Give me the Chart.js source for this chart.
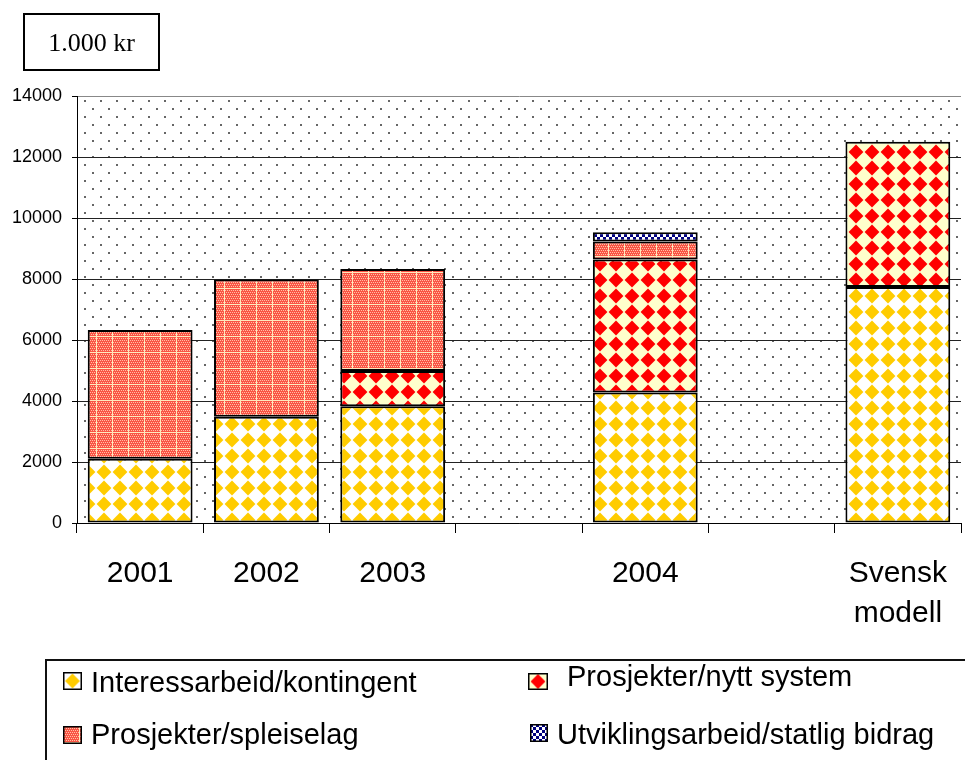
<!DOCTYPE html>
<html>
<head>
<meta charset="utf-8">
<script src="https://cdn.jsdelivr.net/npm/chart.js@4.4.1/dist/chart.umd.min.js"></script>
<style>
  body { margin: 0; background: #fff; }
  #wrap { position: relative; width: 965px; height: 760px; overflow: hidden; }
  #chart { position: absolute; left: 0; top: 0; }
  .unit {
    position: absolute; left: 23px; top: 13px; width: 133px; height: 54px;
    border: 2px solid #000; text-align: center;
    font: 26px "Liberation Serif", "Times New Roman", serif; line-height: 56px;
  }
  .legend-box { position: absolute; left: 45px; top: 659px; width: 940px; height: 140px; border: 2px solid #111; }
  .item { position: absolute; font: 29px "Liberation Sans", Arial, sans-serif; line-height: 29px; white-space: nowrap; color: #000; }
  .swatch { position: absolute; }
</style>
</head>
<body>
<div id="wrap">
  <canvas id="chart" width="965" height="760"></canvas>
  <div class="unit">1.000 kr</div>
  <div class="legend-box"></div>
</div>
<script>
// categories (empty slots are the gaps between 2003/2004 and 2004/Svensk modell)
const categories = ['2001', '2002', '2003', '', '2004', '', ['Svensk', 'modell']];

// values in 1.000 kr
const interessarbeid = [2110, 3480, 3830, null, 4280, null, 7740];
const nyttSystem     = [null, null, 1150, null, 4360, null, 4760];
const spleiselag     = [4220, 4500, 3350, null, 590, null, null];
const utvikling      = [null, null, null, null, 300, null, null];

const seriesNames = [
  'Interessarbeid/kontingent',
  'Prosjekter/nytt system',
  'Prosjekter/spleiselag',
  'Utviklingsarbeid/statlig bidrag',
];

const yTicks = { min: 0, max: 14000, step: 2000 };

// --- fill patterns ---
function makeTile(w, h, draw) {
  const c = document.createElement('canvas');
  c.width = w; c.height = h;
  draw(c.getContext('2d'));
  return c;
}

function diamondTile(bg, fg) {
  return makeTile(16, 16, (t) => {
    t.fillStyle = bg;
    t.fillRect(0, 0, 16, 16);
    t.fillStyle = fg;
    t.beginPath();
    t.moveTo(8, 0.6); t.lineTo(15.4, 8); t.lineTo(8, 15.4); t.lineTo(0.6, 8);
    t.closePath();
    t.fill();
  });
}

const tiles = {
  dots: makeTile(16, 16, (t) => {
    t.fillStyle = 'rgba(0,0,0,0.6)';
    t.fillRect(4, 4, 2, 2);
    t.fillRect(12, 12, 2, 2);
  }),
  yellow: diamondTile('#ffffff', '#ffcc00'),
  red: diamondTile('#ffffcc', '#ff0000'),
  salmon: makeTile(16, 16, (t) => {
    t.fillStyle = '#fa5444';
    t.fillRect(0, 0, 16, 16);
    t.fillStyle = '#ffc0a8';
    for (let x = 0; x < 16; x += 2) {
      for (let y = 0; y < 16; y += 2) t.fillRect(x + (y % 4 ? 1 : 0), y, 1, 1);
    }
    t.fillStyle = '#ffe8bc';
    t.fillRect(0, 0, 16, 1);
    t.fillRect(0, 0, 1, 16);
  }),
  navy: makeTile(6, 6, (t) => {
    t.fillStyle = '#ffffff';
    t.fillRect(0, 0, 6, 6);
    t.fillStyle = '#000080';
    t.fillRect(0, 0, 3, 3);
    t.fillRect(3, 3, 3, 3);
  }),
};

const canvas = document.getElementById('chart');
const ctx = canvas.getContext('2d');
const pat = (name) => ctx.createPattern(tiles[name], 'repeat');

const plotBackground = {
  id: 'plotBackground',
  beforeDraw(chart) {
    const { ctx: c, chartArea: a } = chart;
    c.save();
    c.fillStyle = '#fff';
    c.fillRect(0, 0, chart.width, chart.height);
    c.fillStyle = pat('dots');
    c.fillRect(a.left, a.top, a.right - a.left, a.bottom - a.top);
    c.restore();
  },
};

const barStyle = {
  borderColor: '#000',
  borderWidth: 2,
  borderSkipped: false,
  barPercentage: 0.83,
  categoryPercentage: 1,
};

const chart = new Chart(ctx, {
  type: 'bar',
  data: {
    labels: categories,
    datasets: [
      { label: seriesNames[0], data: interessarbeid, backgroundColor: pat('yellow'), swatch: 'yellow', ...barStyle },
      { label: seriesNames[1], data: nyttSystem, backgroundColor: pat('red'), swatch: 'red', ...barStyle },
      { label: seriesNames[2], data: spleiselag, backgroundColor: pat('salmon'), swatch: 'salmon', ...barStyle },
      { label: seriesNames[3], data: utvikling, backgroundColor: pat('navy'), swatch: 'navy', ...barStyle },
    ],
  },
  options: {
    responsive: false,
    animation: false,
    layout: { padding: { top: 96, right: 0, left: 0, bottom: 0 } },
    plugins: { legend: { display: false }, tooltip: { enabled: false } },
    scales: {
      x: {
        stacked: true,
        grid: { offset: true, drawOnChartArea: false, tickLength: 10, color: '#000' },
        border: { color: '#000', width: 1 },
        ticks: {
          color: '#000',
          font: { family: '"Liberation Sans", Arial, sans-serif', size: 30, lineHeight: 1.33 },
          padding: 21,
          maxRotation: 0,
          autoSkip: false,
        },
        afterFit: (s) => { s.height = 237; s.paddingRight = 4; },
      },
      y: {
        stacked: true,
        min: yTicks.min,
        max: yTicks.max,
        ticks: {
          stepSize: yTicks.step,
          color: '#000',
          font: { family: '"Liberation Sans", Arial, sans-serif', size: 18 },
          padding: 10,
          callback: (v) => String(v),
        },
        grid: {
          color: (c) => (c.tick && c.tick.value === yTicks.max ? '#888' : '#222'),
          tickColor: '#000',
          tickLength: 5,
        },
        border: { color: '#000', width: 1 },
        afterFit: (s) => { s.width = 77; },
      },
    },
  },
  plugins: [plotBackground],
});

// --- html legend built from the datasets ---
const legendSlots = [
  { sx: 63, sy: 672, sw: 19, sh: 18, tx: 91, ty: 668 },
  { sx: 528, sy: 673, sw: 20, sh: 17, tx: 567, ty: 662 },
  { sx: 63, sy: 726, sw: 19, sh: 18, tx: 91, ty: 720 },
  { sx: 530, sy: 724, sw: 18, sh: 18, tx: 557, ty: 720 },
];

const wrap = document.getElementById('wrap');
chart.data.datasets.forEach((ds, i) => {
  const s = legendSlots[i];
  const sw = document.createElement('canvas');
  sw.className = 'swatch';
  sw.width = s.sw; sw.height = s.sh;
  sw.style.left = s.sx + 'px';
  sw.style.top = s.sy + 'px';
  const sc = sw.getContext('2d');
  sc.save();
  if (ds.swatch === 'yellow' || ds.swatch === 'red') sc.translate(s.sw / 2 - 8, s.sh / 2 - 8);
  sc.fillStyle = sc.createPattern(tiles[ds.swatch], 'repeat');
  sc.fillRect(-20, -20, 60, 60);
  sc.restore();
  sc.strokeStyle = '#000';
  sc.lineWidth = 1.5;
  sc.strokeRect(0.75, 0.75, s.sw - 1.5, s.sh - 1.5);
  wrap.appendChild(sw);

  const label = document.createElement('div');
  label.className = 'item';
  label.textContent = ds.label;
  label.style.left = s.tx + 'px';
  label.style.top = s.ty + 'px';
  wrap.appendChild(label);
});
</script>
</body>
</html>
